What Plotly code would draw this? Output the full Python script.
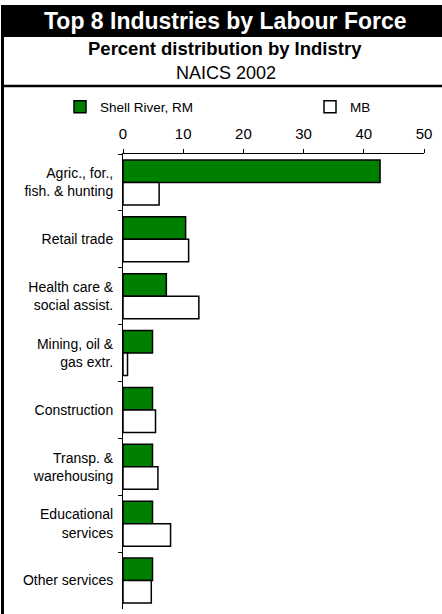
import plotly.graph_objects as go

categories = ["Agric., for.,<br>fish. & hunting", "Retail trade", "Health care &<br>social assist.",
              "Mining, oil &<br>gas extr.", "Construction", "Transp. &<br>warehousing",
              "Educational<br>services", "Other services"]
shell_river = [42.7, 10.4, 7.2, 4.9, 4.9, 4.9, 4.9, 4.9]
mb = [6.0, 10.9, 12.6, 0.75, 5.4, 5.8, 7.9, 4.7]
series_names = ["Shell River, RM", "MB"]
title_text = "Top 8 Industries by Labour Force"
subtitle_text = "Percent distribution by Indistry"
subtitle2_text = "NAICS 2002"

W, H = 442, 614
L, R, T, B = 123, 18, 154, 5
PW, PH = W - L - R, H - T - B
FONT = "Liberation Sans, Arial, sans-serif"


def xp(px):
    return (px - L) / PW


def yp(py):
    return (H - B - py) / PH


fig = go.Figure()
fig.add_trace(go.Bar(y=categories, x=shell_river, orientation="h", name=series_names[0],
                     legend="legend",
                     marker=dict(color="#008000", line=dict(color="black", width=1.5))))
fig.add_trace(go.Bar(y=categories, x=mb, orientation="h", name=series_names[1],
                     legend="legend2",
                     marker=dict(color="white", line=dict(color="black", width=1.5))))

shapes = [
    dict(type="rect", xref="paper", yref="paper", x0=xp(3), x1=xp(442), y0=yp(5), y1=yp(37),
         fillcolor="black", line=dict(width=0), layer="below"),
    dict(type="line", xref="paper", yref="paper", x0=xp(2.5), x1=xp(2.5), y0=yp(5), y1=yp(614),
         line=dict(color="black", width=3)),
    dict(type="line", xref="paper", yref="paper", x0=xp(3), x1=xp(442), y0=yp(86), y1=yp(86),
         line=dict(color="black", width=2.5)),
]

annotations = [
    dict(text="<b>" + title_text + "</b>", xref="paper", yref="paper", x=xp(225), y=yp(21),
         xanchor="center", yanchor="middle", showarrow=False, font=dict(size=23, color="white", family=FONT)),
    dict(text="<b>" + subtitle_text + "</b>", xref="paper", yref="paper", x=xp(225), y=yp(49),
         xanchor="center", yanchor="middle", showarrow=False, font=dict(size=18.5, color="black", family=FONT)),
    dict(text=subtitle2_text, xref="paper", yref="paper", x=xp(226), y=yp(73),
         xanchor="center", yanchor="middle", showarrow=False, font=dict(size=18, color="black", family=FONT)),
]

legend_common = dict(orientation="h", xanchor="left", yanchor="middle",
                     font=dict(size=13.5, family=FONT), bgcolor="rgba(0,0,0,0)", borderwidth=0)

fig.update_layout(
    width=W, height=H,
    margin=dict(l=L, r=R, t=T, b=B, pad=0),
    paper_bgcolor="white", plot_bgcolor="white",
    font=dict(family=FONT, color="black"),
    barmode="group", bargap=0.21, bargroupgap=0,
    shapes=shapes, annotations=annotations,
    showlegend=True,
    legend=dict(x=xp(60), y=yp(107), **legend_common),
    legend2=dict(x=xp(310), y=yp(107), **legend_common),
    xaxis=dict(side="top", range=[0, 50], dtick=10, tick0=0, ticks="outside", ticklen=4,
               tickcolor="black", showline=True, linecolor="black", linewidth=1,
               showgrid=False, zeroline=False, tickfont=dict(size=15, family=FONT),
               ticklabelstandoff=4, fixedrange=True),
    yaxis=dict(autorange="reversed", ticks="outside", ticklen=4, tickcolor="black",
               tickson="boundaries", showline=True, linecolor="black", linewidth=1,
               showgrid=False, tickfont=dict(size=14, family=FONT), ticklabelstandoff=6,
               fixedrange=True),
)

fig.write_html("out.html", config={"displayModeBar": False},
               post_script="document.body.style.margin='0';document.body.style.overflow='hidden';")
